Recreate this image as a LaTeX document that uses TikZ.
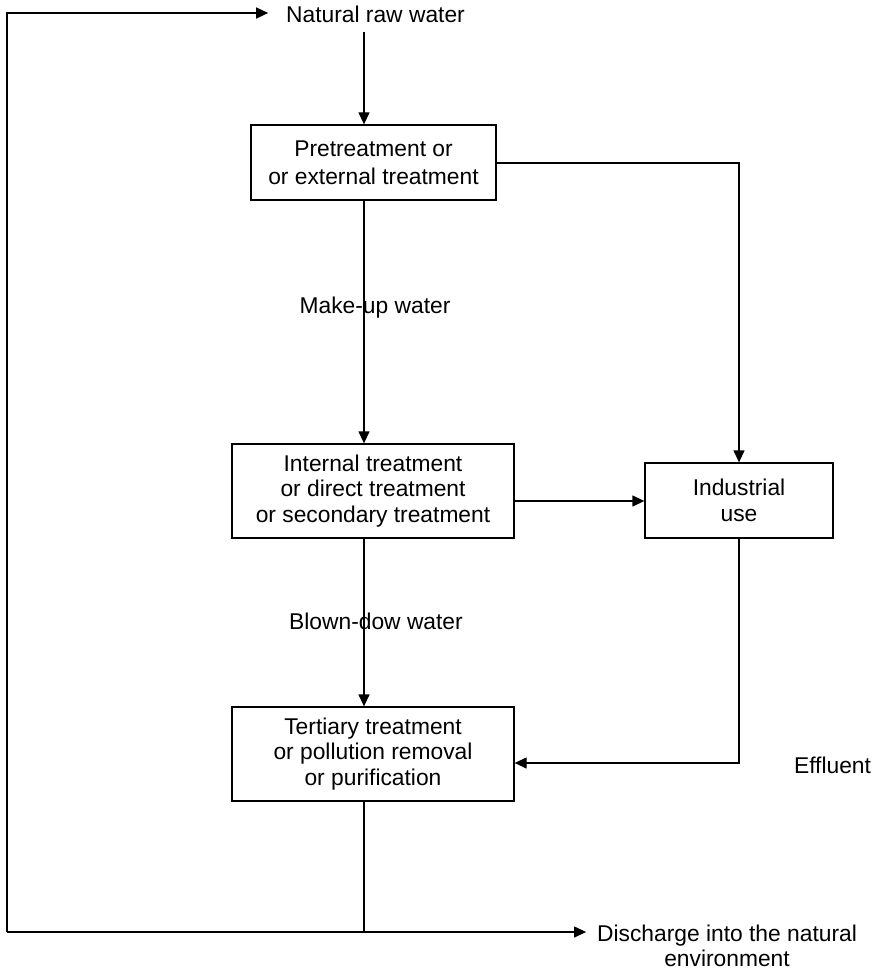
\documentclass[tikz,border=0pt]{standalone}
\usepackage{fontspec}
\setmainfont{Liberation Sans}
\usetikzlibrary{arrows.meta}
\begin{document}
\begin{tikzpicture}[x=1pt,y=-1pt,
  every node/.style={font=\fontsize{22.8}{25.5}\selectfont},
  box/.style={draw,line width=1.3pt,align=center,inner sep=0pt},
  lbl/.style={align=center,inner sep=0pt},
  conn/.style={line width=1.3pt},
  arr/.style={conn,-{Triangle[length=12pt,width=11pt]}}]
\useasboundingbox (0,0) rectangle (880,971);
\node[lbl,anchor=base,outer xsep=18pt] (raw) at (375.5,23) {Natural raw water};
\node[box,minimum width=245,minimum height=75,font=\fontsize{22.8}{28}\selectfont] (b1) at (373.5,162.5) {Pretreatment or\\or external treatment};
\node[box,minimum width=282,minimum height=94] (b2) at (373,491) {Internal treatment\\or direct treatment\\or secondary treatment};
\node[box,minimum width=188,minimum height=75] (ind) at (739,500.5) {Industrial\\use};
\node[box,minimum width=282,minimum height=94] (b3) at (373,754) {Tertiary treatment\\or pollution removal\\or purification};
\node[lbl,anchor=base] (mu) at (375,313) {Make-up water};
\node[lbl,anchor=base] (bd) at (376,629) {Blown-dow water};
\node[lbl,anchor=base] (ef) at (832.5,773) {Effluent};
\node[lbl,outer xsep=11pt] (dis) at (727,946) {Discharge into the natural\\environment};
\coordinate (rawtop) at (364,32);
\coordinate (c1) at (739,163);
\coordinate (ay) at (600,501);
\coordinate (c2) at (739,763);
\coordinate (j) at (364,932);
\coordinate (cl) at (7,932);
\coordinate (ct) at (7,13);
\draw[arr] (rawtop) -- (rawtop |- b1.north);
\draw[arr] (b1.east |- c1) -- (c1) -- (ind.north);
\draw[arr] (b1.south -| j) -- (b2.north -| j);
\draw[arr] (b2.east |- ay) -- (ind.west |- ay);
\draw[arr] (b2.south -| j) -- (b3.north -| j);
\draw[arr] (ind.south) -- (c2) -- (c2 -| b3.east);
\draw[conn] (b3.south -| j) -- (j);
\draw[arr] (cl) -- (j) -- (j -| dis.west);
\draw[arr] (cl) -- (ct) -- (ct -| raw.west);
\end{tikzpicture}
\end{document}
